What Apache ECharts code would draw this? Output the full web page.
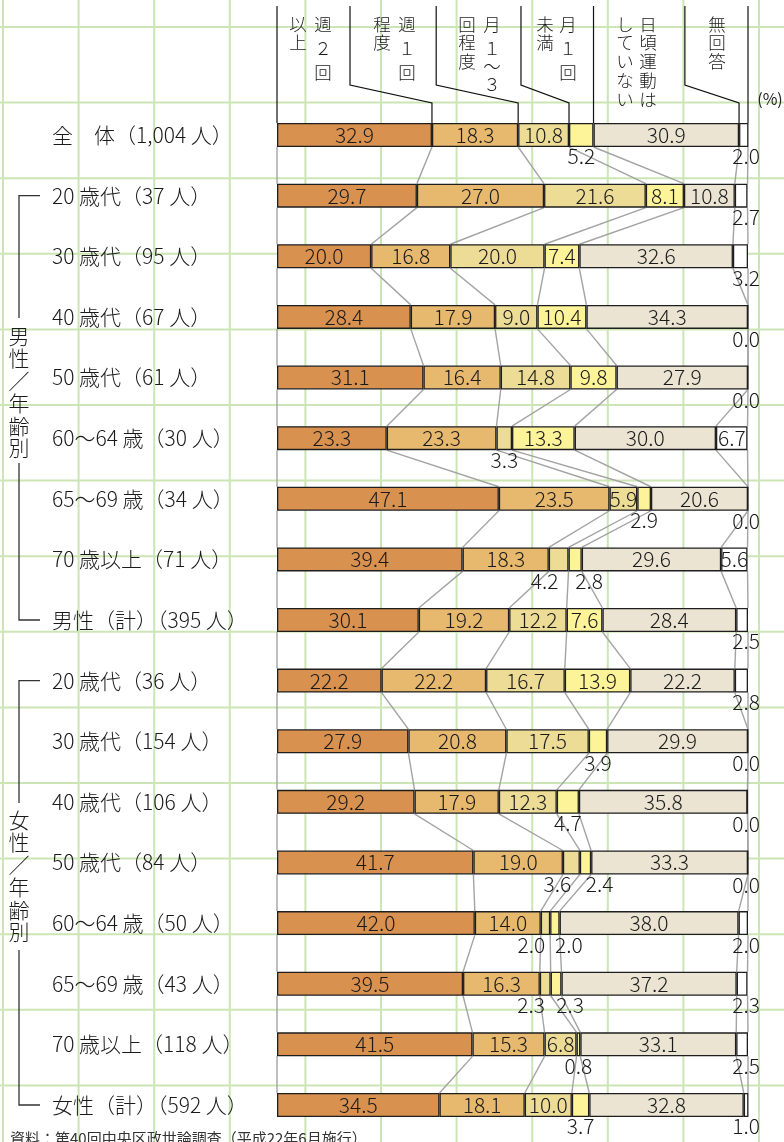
<!DOCTYPE html>
<html><head><meta charset="utf-8">
<script src="https://cdn.jsdelivr.net/npm/echarts@6/dist/echarts.min.js"></script>
<style>html,body{margin:0;padding:0;background:#fff}#c{width:784px;height:1142px}</style>
</head><body><div id="c"></div>
<script>
// ---------- data ----------
const categories = ['全　体（1,004 人）','20 歳代（37 人）','30 歳代（95 人）','40 歳代（67 人）','50 歳代（61 人）','60～64 歳（30 人）','65～69 歳（34 人）','70 歳以上（71 人）','男性（計）（395 人）','20 歳代（36 人）','30 歳代（154 人）','40 歳代（106 人）','50 歳代（84 人）','60～64 歳（50 人）','65～69 歳（43 人）','70 歳以上（118 人）','女性（計）（592 人）'];
const seriesNames = ['週2回以上','週1回程度','月1～3回程度','月1回未満','日頃運動はしていない','無回答'];
const twicePerWeek    = [32.9,29.7,20.0,28.4,31.1,23.3,47.1,39.4,30.1,22.2,27.9,29.2,41.7,42.0,39.5,41.5,34.5];
const oncePerWeek     = [18.3,27.0,16.8,17.9,16.4,23.3,23.5,18.3,19.2,22.2,20.8,17.9,19.0,14.0,16.3,15.3,18.1];
const monthly1to3     = [10.8,21.6,20.0,9.0,14.8,3.3,5.9,4.2,12.2,16.7,17.5,12.3,3.6,2.0,2.3,6.8,10.0];
const lessThanMonthly = [5.2,8.1,7.4,10.4,9.8,13.3,2.9,2.8,7.6,13.9,3.9,4.7,2.4,2.0,2.3,0.8,3.7];
const noExercise      = [30.9,10.8,32.6,34.3,27.9,30.0,20.6,29.6,28.4,22.2,29.9,35.8,33.3,38.0,37.2,33.1,32.8];
const noAnswer        = [2.0,2.7,3.2,0.0,0.0,6.7,0.0,5.6,2.5,2.8,0.0,0.0,0.0,2.0,2.3,2.5,1.0];
// header texts: [right column, left column] (vertical writing)
const headerTexts = [['週２回','以上'],['週１回','程度'],['月１～３','回程度'],['月１回','未満'],['日頃運動は','していない'],['無回答','']];
const groupLabels = ['男性／年齢別','女性／年齢別'];
const sourceNote = '資料：第40回中央区政世論調査（平成22年6月施行）';

// ---------- layout / style ----------
const FONT = '"Noto Sans CJK JP","Noto Sans",sans-serif';
const colors = ['#d99150','#e7b96f','#ecdc96','#fdf399','#ebe4d3','#ffffff'];
const all = [twicePerWeek, oncePerWeek, monthly1to3, lessThanMonthly, noExercise, noAnswer];
const BAR_W = 24;
const PX_PER_PCT = 4.71;
const n = categories.length;

const cum = categories.map((_, i) => {
  const r = [0]; let s = 0;
  all.forEach(a => { s += a[i]; r.push(Math.min(s, 100)); });
  return r;
});

function isOutside(v){ return v < 5.5; }

const barSeries = all.map((arr, j) => ({
  name: seriesNames[j], type: 'bar', stack: 'total', barWidth: BAR_W,
  itemStyle: { color: colors[j], borderColor: '#1e1e1e', borderWidth: 1.3 },
  label: { show: true, position: 'inside', color: '#1a1a1a', fontFamily: FONT, fontSize: 21, fontWeight: 300,
           formatter: p => Number(p.value).toFixed(1) },
  z: 3,
  data: arr.map((v, i) => {
    if (!isOutside(v)) return v;
    let dx = 0;
    if (j === 5) {
      dx = (100 - (cum[i][5] + v / 2)) * PX_PER_PCT - 2;
    } else {
      const prevOut = j > 0 && isOutside(all[j-1][i]);
      const nextOut = j < 4 && isOutside(all[j+1][i]);
      if (nextOut) dx = -14; else if (prevOut) dx = 14;
    }
    return { value: v, label: { position: 'bottom', distance: -1, offset: [dx, 0] } };
  })
}));

const connData = [];
for (let i = 0; i < n - 1; i++) for (let j = 0; j <= 6; j++) connData.push([i, cum[i][j], cum[i+1][j]]);

const headerTopPct = [0, 15.5, 33.8, 51.8, null, 86.6, 100];
const headerData = headerTopPct.map((t, j) => [t === null ? cum[0][j] : t, j === 6 ? 100 : cum[0][j]]);

const chart = echarts.init(document.getElementById('c'), null, { renderer: 'canvas' });
chart.setOption({
  animation: false,
  grid: { left: 277, right: 36, top: 104.7, bottom: 6.7, containLabel: false },
  xAxis: { type: 'value', min: 0, max: 100, show: false },
  yAxis: { type: 'category', inverse: true, data: categories,
           axisLine: { show: false }, axisTick: { show: false }, splitLine: { show: false },
           axisLabel: { align: 'left', margin: 225, color: '#1a1a1a', fontFamily: FONT, fontSize: 21, fontWeight: 300 } },
  series: barSeries.concat([
    { type: 'custom', z: 2, silent: true, data: connData, encode: { x: [1, 2], y: 0 },
      renderItem(params, api) {
        const i = api.value(0);
        const p1 = api.coord([api.value(1), i]);
        const p2 = api.coord([api.value(2), i + 1]);
        return { type: 'line', shape: { x1: p1[0], y1: p1[1] + BAR_W/2, x2: p2[0], y2: p2[1] - BAR_W/2 },
                 style: { stroke: '#a3a3a3', lineWidth: 1.4 } };
      } },
    { type: 'custom', z: 2, silent: true, data: headerData, encode: { x: [0, 1] },
      renderItem(params, api) {
        const pt = api.coord([api.value(0), 0]);
        const pb = api.coord([api.value(1), 0]);
        const yb = pb[1] - BAR_W/2;
        const pts = Math.abs(pt[0] - pb[0]) < 0.5
          ? [[pt[0], 6], [pt[0], yb]]
          : [[pt[0], 6], [pt[0], 85], [pb[0], 103], [pb[0], yb]];
        return { type: 'polyline', shape: { points: pts }, style: { stroke: '#111', lineWidth: 1.2, fill: null } };
      } }
  ])
});

// ---------- decorations ----------
const g = [];
for (let k = 0; k < 16; k++) {
  const y = 27 + 75.6 * k;
  g.push({ type: 'line', z: -10, silent: true, shape: { x1: 0, y1: y, x2: 784, y2: y }, style: { stroke: '#cbe6b4', lineWidth: 2 } });
}
for (let k = 0; k < 11; k++) {
  const x = 3 + 75.6 * k;
  g.push({ type: 'line', z: -10, silent: true, shape: { x1: x, y1: 0, x2: x, y2: 1142 }, style: { stroke: '#cbe6b4', lineWidth: 2 } });
}
const headerX = [[323, 298], [407, 382], [492, 467], [568, 545], [648, 625], [717, null]];
function isDig(c){ return /[0-9０-９]/.test(c); }
headerTexts.forEach((cols, ci) => {
  cols.forEach((txt, k) => {
    const x = headerX[ci][k]; if (x == null || !txt) return;
    let y = 24; const chars = Array.from(txt);
    chars.forEach((c, idx) => {
      if (idx > 0) {
        const a = chars[idx-1];
        const step = (isDig(a) || isDig(c)) && a !== '～' && c !== '～' ? 24 : (a === '～' || c === '～' ? 18 : 18.8);
        y += step;
      }
      g.push({ type: 'text', z: 50, silent: true, x: x, y: y,
        style: { text: c, fontFamily: FONT, fontSize: 17.5, fontWeight: 300, fill: '#1a1a1a', align: 'center', verticalAlign: 'middle' } });
    });
  });
});
g.push({ type: 'text', z: 50, x: 770, y: 99, style: { text: '(%)', fontFamily: FONT, fontSize: 16, fill: '#222', align: 'center', verticalAlign: 'middle' } });

const rowY = i => chart.convertToPixel({ yAxisIndex: 0 }, i);
const groups = [[1, 8, 318, 463, 392], [9, 16, 803, 950, 876]];
groups.forEach((gr, gi) => {
  const y1 = rowY(gr[0]), y2 = rowY(gr[1]);
  g.push({ type: 'polyline', z: 50, shape: { points: [[40, y1], [19, y1], [19, gr[2]]] }, style: { stroke: '#333', lineWidth: 1.3, fill: null } });
  g.push({ type: 'polyline', z: 50, shape: { points: [[19, gr[3]], [19, y2], [40, y2]] }, style: { stroke: '#333', lineWidth: 1.3, fill: null } });
  const chars = Array.from(groupLabels[gi]);
  chars.forEach((c, idx) => {
    g.push({ type: 'text', z: 50, x: 19, y: gr[4] - (chars.length - 1) / 2 * 22.5 + idx * 22.5,
      style: { text: c, fontFamily: FONT, fontSize: 21, fontWeight: 300, fill: '#1a1a1a', align: 'center', verticalAlign: 'middle' } });
  });
});
g.push({ type: 'text', z: 50, x: 10, y: 1138, style: { text: sourceNote, fontFamily: FONT, fontSize: 15, fill: '#333', align: 'left', verticalAlign: 'middle' } });

chart.setOption({ graphic: { elements: g } });
</script></body></html>
